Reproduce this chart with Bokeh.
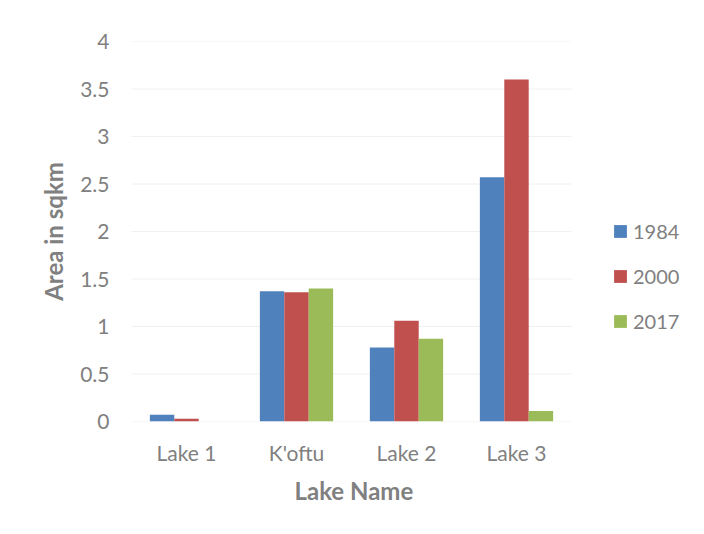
from bokeh.plotting import figure
from bokeh.models import ColumnDataSource, Range1d, Legend, LegendItem, FixedTicker, Title
from bokeh.transform import dodge
from bokeh.embed import file_html
from bokeh.resources import INLINE

lakes = ["Lake 1", "K'oftu", "Lake 2", "Lake 3"]
a1984 = [0.07, 1.37, 0.78, 2.57]
a2000 = [0.03, 1.36, 1.06, 3.60]
a2017 = [0.0, 1.40, 0.87, 0.11]
years = ["1984", "2000", "2017"]
yticks = [0, 0.5, 1, 1.5, 2, 2.5, 3, 3.5, 4]

pos = list(range(len(lakes)))
source = ColumnDataSource(data=dict(pos=pos, y1984=a1984, y2000=a2000, y2017=a2017))

FONT = "Lato"
GREY = "#808080"

x_lo, x_hi = -0.5, len(lakes) - 0.5
p = figure(x_range=Range1d(x_lo, x_lo + 4 * 565 / 440), y_range=Range1d(0, 4),
           width=696, height=526, output_backend="svg", toolbar_location=None,
           min_border_left=131, min_border_right=0, min_border_top=41, min_border_bottom=105)

# horizontal gridlines limited to the category area
p.segment(x0=[x_lo] * len(yticks), x1=[x_hi] * len(yticks), y0=yticks, y1=yticks,
          line_color="#f0f0f0", line_width=1)

colors = ["#4F81BD", "#C0504D", "#9BBB59"]
cols = ["y1984", "y2000", "y2017"]
offsets = [-0.222, 0.0, 0.222]
renderers = []
for c, col, off in zip(cols, colors, offsets):
    r = p.vbar(x=dodge("pos", off), top=c, width=0.222, source=source,
               fill_color=col, line_color=None)
    renderers.append(r)

legend = Legend(items=[LegendItem(label=y, renderers=[r]) for y, r in zip(years, renderers)],
                location=(481, 88), orientation="vertical",
                glyph_width=16, glyph_height=16, label_height=24, spacing=21,
                label_standoff=5, padding=0, margin=0,
                border_line_color=None, background_fill_alpha=0,
                label_text_font=FONT, label_text_font_size="20px", label_text_color=GREY)
p.add_layout(legend, "center")

p.outline_line_color = None
p.xgrid.visible = False
p.ygrid.visible = False

p.yaxis.ticker = FixedTicker(ticks=yticks)
p.yaxis.axis_line_color = None
p.yaxis.major_tick_line_color = None
p.yaxis.minor_tick_line_color = None
p.yaxis.major_tick_out = 0
p.yaxis.major_label_standoff = 22
p.yaxis.major_label_text_font = FONT
p.yaxis.major_label_text_font_size = "21px"
p.yaxis.major_label_text_color = GREY
p.yaxis.axis_label = "Area in sqkm"
p.yaxis.axis_label_text_font = FONT
p.yaxis.axis_label_text_font_size = "24px"
p.yaxis.axis_label_text_font_style = "bold"
p.yaxis.axis_label_text_color = GREY
p.yaxis.axis_label_standoff = 9

p.xaxis.ticker = FixedTicker(ticks=pos)
p.xaxis.major_label_overrides = {i: name for i, name in zip(pos, lakes)}
p.xaxis.axis_line_color = None
p.xaxis.major_tick_line_color = None
p.xaxis.minor_tick_line_color = None
p.xaxis.major_tick_out = 0
p.xaxis.major_label_standoff = 18
p.xaxis.major_label_text_font = FONT
p.xaxis.major_label_text_font_size = "21px"
p.xaxis.major_label_text_color = GREY

xtitle = Title(text="Lake Name", align="left", offset=163, standoff=12,
               text_font=FONT, text_font_size="24px", text_font_style="bold",
               text_color=GREY)
p.add_layout(xtitle, "below")

open("out.html", "w").write(file_html(p, INLINE))
